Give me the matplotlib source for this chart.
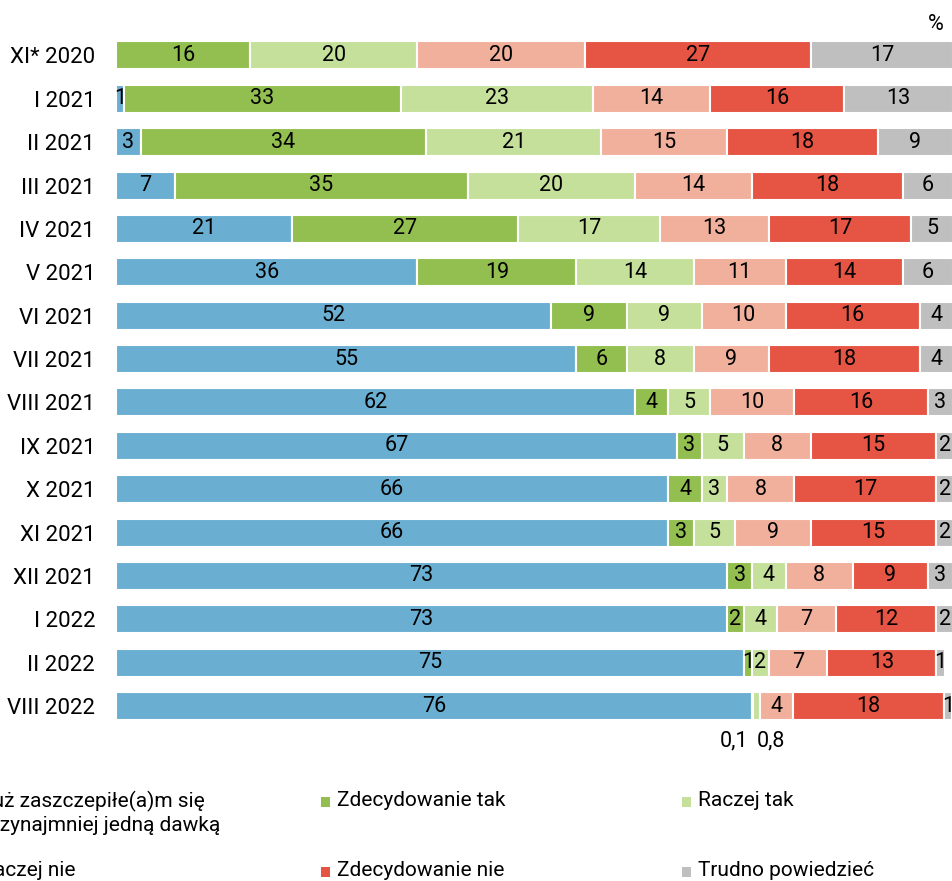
import numpy as np
import matplotlib
matplotlib.use('Agg')
import matplotlib.pyplot as plt
from matplotlib.patches import Rectangle

plt.rcParams['font.family'] = ['Roboto', 'DejaVu Sans']

periods = ['XI* 2020', 'I 2021', 'II 2021', 'III 2021', 'IV 2021', 'V 2021',
           'VI 2021', 'VII 2021', 'VIII 2021', 'IX 2021', 'X 2021', 'XI 2021',
           'XII 2021', 'I 2022', 'II 2022', 'VIII 2022']

categories = ['Już zaszczepiłe(a)m się\nprzynajmniej jedną dawką', 'Zdecydowanie tak',
              'Raczej tak', 'Raczej nie', 'Zdecydowanie nie', 'Trudno powiedzieć']

vaccinated = [0, 1, 3, 7, 21, 36, 52, 55, 62, 67, 66, 66, 73, 73, 75, 76]
def_yes = [16, 33, 34, 35, 27, 19, 9, 6, 4, 3, 4, 3, 3, 2, 1, 0.1]
rather_yes = [20, 23, 21, 20, 17, 14, 9, 8, 5, 5, 3, 5, 4, 4, 2, 0.8]
rather_no = [20, 14, 15, 14, 13, 11, 10, 9, 10, 8, 8, 9, 8, 7, 7, 4]
def_no = [27, 16, 18, 18, 17, 14, 16, 18, 16, 15, 17, 15, 9, 12, 13, 18]
hard_to_say = [17, 13, 9, 6, 5, 6, 4, 4, 3, 2, 2, 2, 3, 2, 1, 1]

series = [vaccinated, def_yes, rather_yes, rather_no, def_no, hard_to_say]
colors = ['#6aafd2', '#92bf50', '#c5e09b', '#f1b09c', '#e65444', '#bfbfbf']

W, H = 953, 881
fig = plt.figure(figsize=(W / 100, H / 100), dpi=100)
ax = fig.add_axes([116 / W, 1 - 727.8 / H, 837 / W, 694 / H])

y = np.arange(len(periods))
left = np.zeros(len(periods))
for vals, col in zip(series, colors):
    vals = np.array(vals, dtype=float)
    ax.barh(y, vals, left=left, height=0.645, color=col, edgecolor='white', linewidth=1.5)
    for i, v in enumerate(vals):
        if v >= 1:
            ax.text(left[i] + v / 2, y[i], f'{v:g}', ha='center', va='center',
                    fontsize=15.5, color='black')
    left += vals

# small values in the last row are labelled under the bar
last = len(periods) - 1
x_dy = vaccinated[last]
ax.annotate('0,1', (x_dy, y[last]), xytext=(-3, -25), textcoords='offset points',
            ha='right', va='center', fontsize=15.5)
ax.annotate('0,8', (x_dy + def_yes[last], y[last]), xytext=(3, -25), textcoords='offset points',
            ha='left', va='center', fontsize=15.5)

ax.set_xlim(0, 100)
ax.set_ylim(len(periods) - 0.5, -0.5)
ax.set_yticks(y)
ax.set_yticklabels(periods, fontsize=16)
ax.set_xticks([])
ax.tick_params(axis='y', length=0, pad=15)
for s in ax.spines.values():
    s.set_visible(False)

fig.text(936 / W, 1 - 24 / H, '%', ha='center', va='center', fontsize=15.5)

# legend, 3 columns x 2 rows
col_x = [-35, 321, 682]
row_y = [802, 872]
for k, (lab, col) in enumerate(zip(categories, colors)):
    cx = col_x[k % 3]
    cy = row_y[k // 3]
    fig.patches.append(Rectangle((cx / W, 1 - (cy + 5) / H), 9 / W, 10 / H,
                                 transform=fig.transFigure, facecolor=col, edgecolor='none'))
    fig.text((cx + 16) / W, 1 - (cy - 11) / H, lab, ha='left', va='top',
             fontsize=15, linespacing=1.25)

fig.savefig('out.png', dpi=100)
